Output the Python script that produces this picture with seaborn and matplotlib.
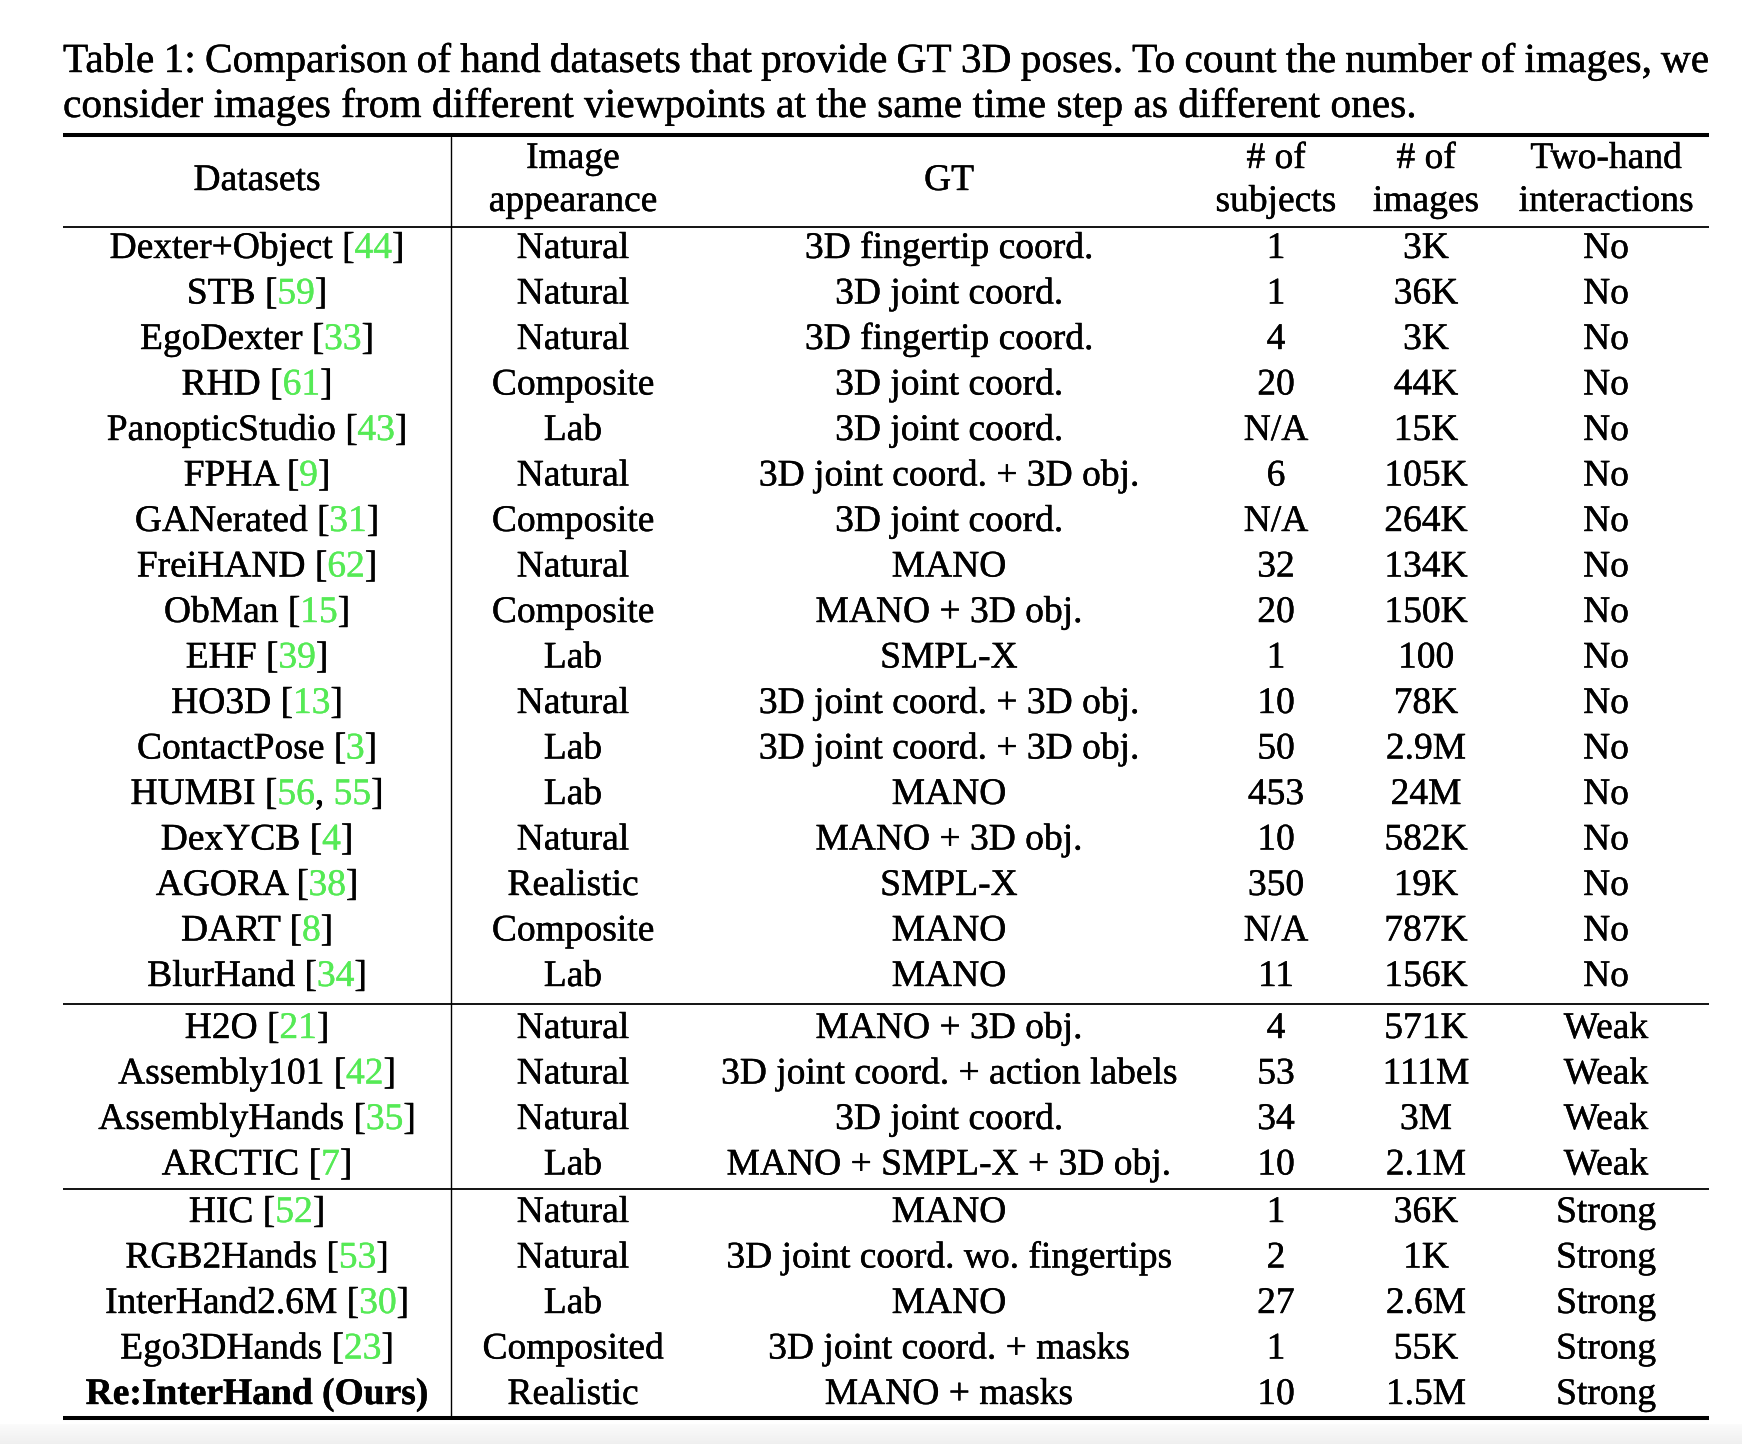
import numpy as np
import matplotlib
matplotlib.use("Agg")
import matplotlib.pyplot as plt
import matplotlib.patheffects as pe
import seaborn as sns

# Table content
caption_1 = ("Table 1: Comparison of hand datasets that provide GT 3D poses. "
             "To count the number of images, we")
caption_2 = "consider images from different viewpoints at the same time step as different ones."

headers = [["Datasets"], ["Image", "appearance"], ["GT"],
           ["# of", "subjects"], ["# of", "images"], ["Two-hand", "interactions"]]

datasets = ["Dexter+Object", "STB", "EgoDexter", "RHD", "PanopticStudio", "FPHA",
            "GANerated", "FreiHAND", "ObMan", "EHF", "HO3D", "ContactPose", "HUMBI",
            "DexYCB", "AGORA", "DART", "BlurHand",
            "H2O", "Assembly101", "AssemblyHands", "ARCTIC",
            "HIC", "RGB2Hands", "InterHand2.6M", "Ego3DHands", "Re:InterHand (Ours)"]
citations = [["44"], ["59"], ["33"], ["61"], ["43"], ["9"], ["31"], ["62"], ["15"],
             ["39"], ["13"], ["3"], ["56", "55"], ["4"], ["38"], ["8"], ["34"],
             ["21"], ["42"], ["35"], ["7"],
             ["52"], ["53"], ["30"], ["23"], []]
appearance = ["Natural", "Natural", "Natural", "Composite", "Lab", "Natural", "Composite",
              "Natural", "Composite", "Lab", "Natural", "Lab", "Lab", "Natural",
              "Realistic", "Composite", "Lab",
              "Natural", "Natural", "Natural", "Lab",
              "Natural", "Natural", "Lab", "Composited", "Realistic"]
gt = ["3D fingertip coord.", "3D joint coord.", "3D fingertip coord.", "3D joint coord.",
      "3D joint coord.", "3D joint coord. + 3D obj.", "3D joint coord.", "MANO",
      "MANO + 3D obj.", "SMPL-X", "3D joint coord. + 3D obj.", "3D joint coord. + 3D obj.",
      "MANO", "MANO + 3D obj.", "SMPL-X", "MANO", "MANO",
      "MANO + 3D obj.", "3D joint coord. + action labels", "3D joint coord.",
      "MANO + SMPL-X + 3D obj.",
      "MANO", "3D joint coord. wo. fingertips", "MANO", "3D joint coord. + masks",
      "MANO + masks"]
subjects = ["1", "1", "4", "20", "N/A", "6", "N/A", "32", "20", "1", "10", "50", "453",
            "10", "350", "N/A", "11",
            "4", "53", "34", "10",
            "1", "2", "27", "1", "10"]
images = ["3K", "36K", "3K", "44K", "15K", "105K", "264K", "134K", "150K", "100", "78K",
          "2.9M", "24M", "582K", "19K", "787K", "156K",
          "571K", "111M", "3M", "2.1M",
          "36K", "1K", "2.6M", "55K", "1.5M"]
interactions = ["No"] * 17 + ["Weak"] * 4 + ["Strong"] * 5
group_sizes = [17, 4, 5]

# Layout (pixels)
W, H = 1742, 1444
left, right = 63, 1709
col_x = [257, 573, 949, 1276, 1426, 1606]
group_start = [258, 1038, 1222]
row_step = 45.5
font = "Liberation Serif"
fs = 27.0
cap_fs = 29.8
green = "#55ea55"

sns.set_theme(style="white")
plt.rcParams["font.family"] = [font, "DejaVu Serif"]

fig = plt.figure(figsize=(W / 100, H / 100), dpi=100)
ax = fig.add_axes([0, 0, 1, 1])
ax.set_xlim(0, W)
ax.set_ylim(H, 0)
ax.axis("off")
renderer = fig.canvas.get_renderer()


def ink(color):
    # a hair of stroke to get the darker look of the PDF screenshot
    return [pe.withStroke(linewidth=0.3, foreground=color)]


def put(x, y, s, size=fs, weight="normal", color="black", ha="center"):
    ax.text(x, y, s, fontsize=size, family=font, fontweight=weight, color=color,
            ha=ha, va="baseline", path_effects=ink(color))


def text_width(s, size=fs, weight="normal"):
    if not s:
        return 0.0
    t = ax.text(0, 0, s, fontsize=size, family=font, fontweight=weight)
    w = t.get_window_extent(renderer).width
    t.remove()
    return w


def draw_segments(segs, xc, y, weight="normal"):
    full = "".join(s for s, _ in segs)
    x0 = xc - text_width(full, weight=weight) / 2
    acc = ""
    for s, c in segs:
        acc += s
        piece = s.strip()
        if not piece:
            continue
        x = x0 + text_width(acc.rstrip(), weight=weight) - text_width(piece, weight=weight)
        put(x, y, piece, weight=weight, color=c, ha="left")


# Caption: first line justified, second ragged
words = caption_1.split()
ww = [text_width(w, size=cap_fs) for w in words]
gap = (right - left - sum(ww)) / (len(words) - 1)
x = left
for w, wd in zip(words, ww):
    put(x, 72, w, size=cap_fs, ha="left")
    x += wd + gap
put(left, 117, caption_2, size=cap_fs, ha="left")

# Rules
for yy, lw in [(135, 2.9), (227, 1.3), (1004, 1.3), (1189, 1.3), (1418, 2.9)]:
    ax.plot([left, right], [yy, yy], color="black", lw=lw, solid_capstyle="butt")
ax.plot([451, 451], [137, 1417], color="black", lw=1.0)

# Header
for cx, lines in zip(col_x, headers):
    if len(lines) == 1:
        put(cx, 190, lines[0])
    else:
        put(cx, 168, lines[0])
        put(cx, 211, lines[1])

# Body rows
row_y = []
for start, n in zip(group_start, group_sizes):
    row_y += [start + row_step * i for i in range(n)]

for i, y in enumerate(row_y):
    cites = citations[i]
    if cites:
        segs = [(datasets[i] + " [", "black")]
        for k, c in enumerate(cites):
            if k > 0:
                segs.append((", ", "black"))
            segs.append((c, green))
        segs.append(("]", "black"))
        draw_segments(segs, col_x[0], y)
    else:
        put(col_x[0], y, datasets[i], weight="bold")
    for cx, col in zip(col_x[1:], [appearance, gt, subjects, images, interactions]):
        put(cx, y, col[i])

# faint grey band at the very bottom of the screenshot
grad = np.linspace(0.985, 0.94, 20)
band = np.stack([grad, grad, grad], axis=-1)[:, None, :].repeat(2, axis=1)
ax.imshow(band, extent=[0, W, H, 1424], aspect="auto", zorder=0)

fig.savefig("out.png", dpi=100)
